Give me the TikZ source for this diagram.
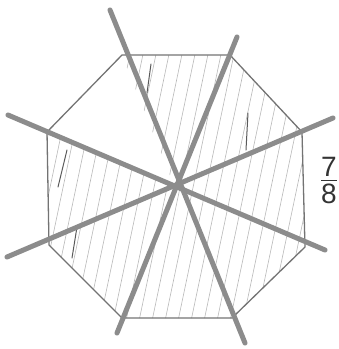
\documentclass[tikz,border=0pt]{standalone}
\usepackage{fontspec}
\setmainfont{Liberation Sans}
\begin{document}
\begin{tikzpicture}[x=1pt, y=-1pt]
\tikzset{edge/.style={draw=black!55,line width=1.3pt,line join=round},
  spoke/.style={draw=black!45,line width=5pt,line cap=round},
  hatch/.style={draw=black!28,line width=0.6pt},
  stroke/.style={draw=black!65,line width=1pt,line cap=round}}
\useasboundingbox (0,0) rectangle (339,349);
\coordinate (o) at (175,188);
\coordinate (a) at (122,55);  \coordinate (b) at (230,55);
\coordinate (c) at (302,132); \coordinate (d) at (305,247);
\coordinate (e) at (232,318); \coordinate (f) at (122,318);
\coordinate (g) at (49,245);  \coordinate (h) at (47,132);
% ends of the spokes
\coordinate (s1) at (110,10);  \coordinate (t1) at (245,343);
\coordinate (s2) at (237,37);  \coordinate (t2) at (117,333);
\coordinate (s3) at (8,115);   \coordinate (t3) at (325,250);
\coordinate (s4) at (7,257);   \coordinate (t4) at (333,118);
% seven of eight parts hatched
\begin{scope}
\clip (o) -- (a) -- (b) -- (c) -- (d) -- (e) -- (f) -- (g) -- (h) -- cycle;
\foreach \x in {-60,-47,...,320}
  \draw[hatch] (\x,340) -- (\x+63,40);
\end{scope}
\draw[stroke] (151,64) -- (147,93);
\draw[stroke] (248,113) -- (246,150);
\draw[stroke] (67,150) -- (58,187);
\draw[stroke] (77,227) -- (72,258);
\draw[edge] (a) -- (b) -- (c) -- (d) -- (e) -- (f) -- (g) -- (h) -- cycle;
\draw[spoke] (s1) -- (t1);
\draw[spoke] (s2) -- (t2);
\draw[spoke] (s3) -- (t3);
\draw[spoke] (s4) -- (t4);
\node[text=black!80,font=\fontsize{28}{28}\selectfont,inner sep=0pt] (frac) at (329,180.5)
  {\shortstack{7\\\rule{16pt}{1pt}\\8}};
\end{tikzpicture}
\end{document}
